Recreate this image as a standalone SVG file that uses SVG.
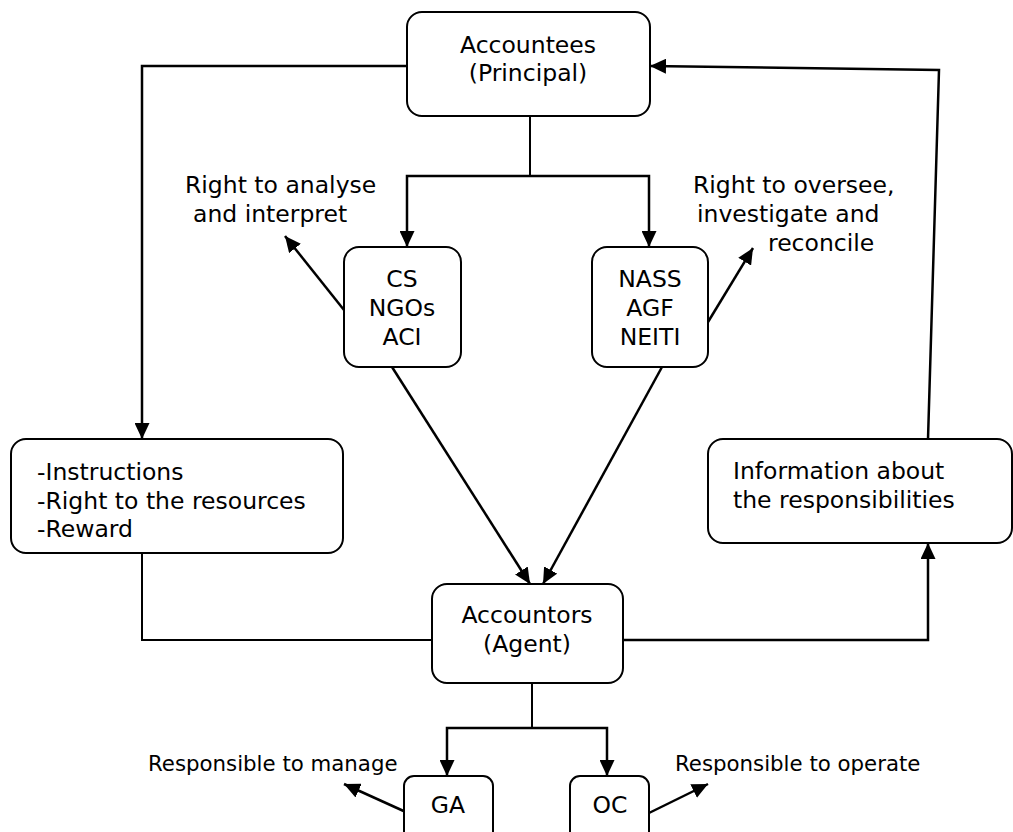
<svg xmlns="http://www.w3.org/2000/svg" width="1013" height="832" viewBox="0 0 1013 832">
<defs>
<marker id="arr" markerUnits="userSpaceOnUse" markerWidth="17" markerHeight="15" viewBox="0 0 17 15" refX="16" refY="7.5" orient="auto">
<path d="M0,0 L16,7.5 L0,15 z" fill="#000"/>
</marker>
<style>
.box{fill:#fff;stroke:#000;stroke-width:2}
.t{font-family:"DejaVu Sans","Verdana",sans-serif;font-size:23.5px;fill:#000}
.c{text-anchor:middle}
.s{font-family:"DejaVu Sans","Verdana",sans-serif;font-size:21.3px;fill:#000}
.ln{fill:none;stroke:#000;stroke-width:2}
.ar{fill:none;stroke:#000;stroke-width:2.5;marker-end:url(#arr)}
</style>
</defs>
<rect width="1013" height="832" fill="#fff"/>
<g id="connectors">
<path class="ar" d="M407,66 H142 V439"/>
<path class="ln" d="M530,116 V176"/>
<path class="ar" d="M530,176 H407 V247"/>
<path class="ar" d="M530,176 H649 V247"/>
<path class="ar" d="M344,310 L285,236"/>
<path class="ar" d="M708,322 L753,248"/>
<path class="ar" d="M392,367 L530,584"/>
<path class="ar" d="M662,367 L543,584"/>
<path class="ln" d="M142,553 V640 H432"/>
<path class="ar" d="M623,640 H928 V543"/>
<path class="ar" d="M928,439 L939,70 L650,66"/>
<path class="ln" d="M532,683 V728"/>
<path class="ar" d="M532,728 H447 V776"/>
<path class="ar" d="M532,728 H607 V776"/>
<path class="ar" d="M408,813 L344,784"/>
<path class="ar" d="M649,813 L708,784"/>
</g>
<g id="accountees">
<rect class="box" x="407" y="12" width="243" height="104" rx="15"/>
<text class="t c" x="528" y="53">Accountees</text>
<text class="t c" x="528" y="81">(Principal)</text>
</g>
<g id="cs">
<rect class="box" x="344" y="247" width="117" height="120" rx="15"/>
<text class="t c" x="402" y="287">CS</text>
<text class="t c" x="402" y="316">NGOs</text>
<text class="t c" x="402" y="345">ACI</text>
</g>
<g id="nass">
<rect class="box" x="592" y="247" width="116" height="120" rx="15"/>
<text class="t c" x="650" y="287">NASS</text>
<text class="t c" x="650" y="316">AGF</text>
<text class="t c" x="650" y="345">NEITI</text>
</g>
<g id="label-analyse">
<text class="t" x="185" y="193">Right to analyse</text>
<text class="t" x="193" y="222">and interpret</text>
</g>
<g id="label-oversee">
<text class="t" x="693" y="193">Right to oversee,</text>
<text class="t" x="697" y="222">investigate and</text>
<text class="t" x="768" y="251">reconcile</text>
</g>
<g id="instructions">
<rect class="box" x="11" y="439" width="332" height="114" rx="15"/>
<text class="t" x="37" y="480">-Instructions</text>
<text class="t" x="37" y="509">-Right to the resources</text>
<text class="t" x="37" y="537">-Reward</text>
</g>
<g id="information">
<rect class="box" x="708" y="439" width="304" height="104" rx="15"/>
<text class="t" x="733" y="479">Information about</text>
<text class="t" x="733" y="508">the responsibilities</text>
</g>
<g id="accountors">
<rect class="box" x="432" y="584" width="191" height="99" rx="15"/>
<text class="t c" x="527" y="623">Accountors</text>
<text class="t c" x="527" y="652">(Agent)</text>
</g>
<g id="ga">
<rect class="box" x="404" y="776" width="89" height="70" rx="10"/>
<text class="t c" x="448" y="813">GA</text>
</g>
<g id="oc">
<rect class="box" x="570" y="776" width="79" height="70" rx="10"/>
<text class="t c" x="610" y="813">OC</text>
</g>
<g id="label-manage">
<text class="s" x="148" y="771">Responsible to manage</text>
</g>
<g id="label-operate">
<text class="s" x="675" y="771">Responsible to operate</text>
</g>
</svg>
